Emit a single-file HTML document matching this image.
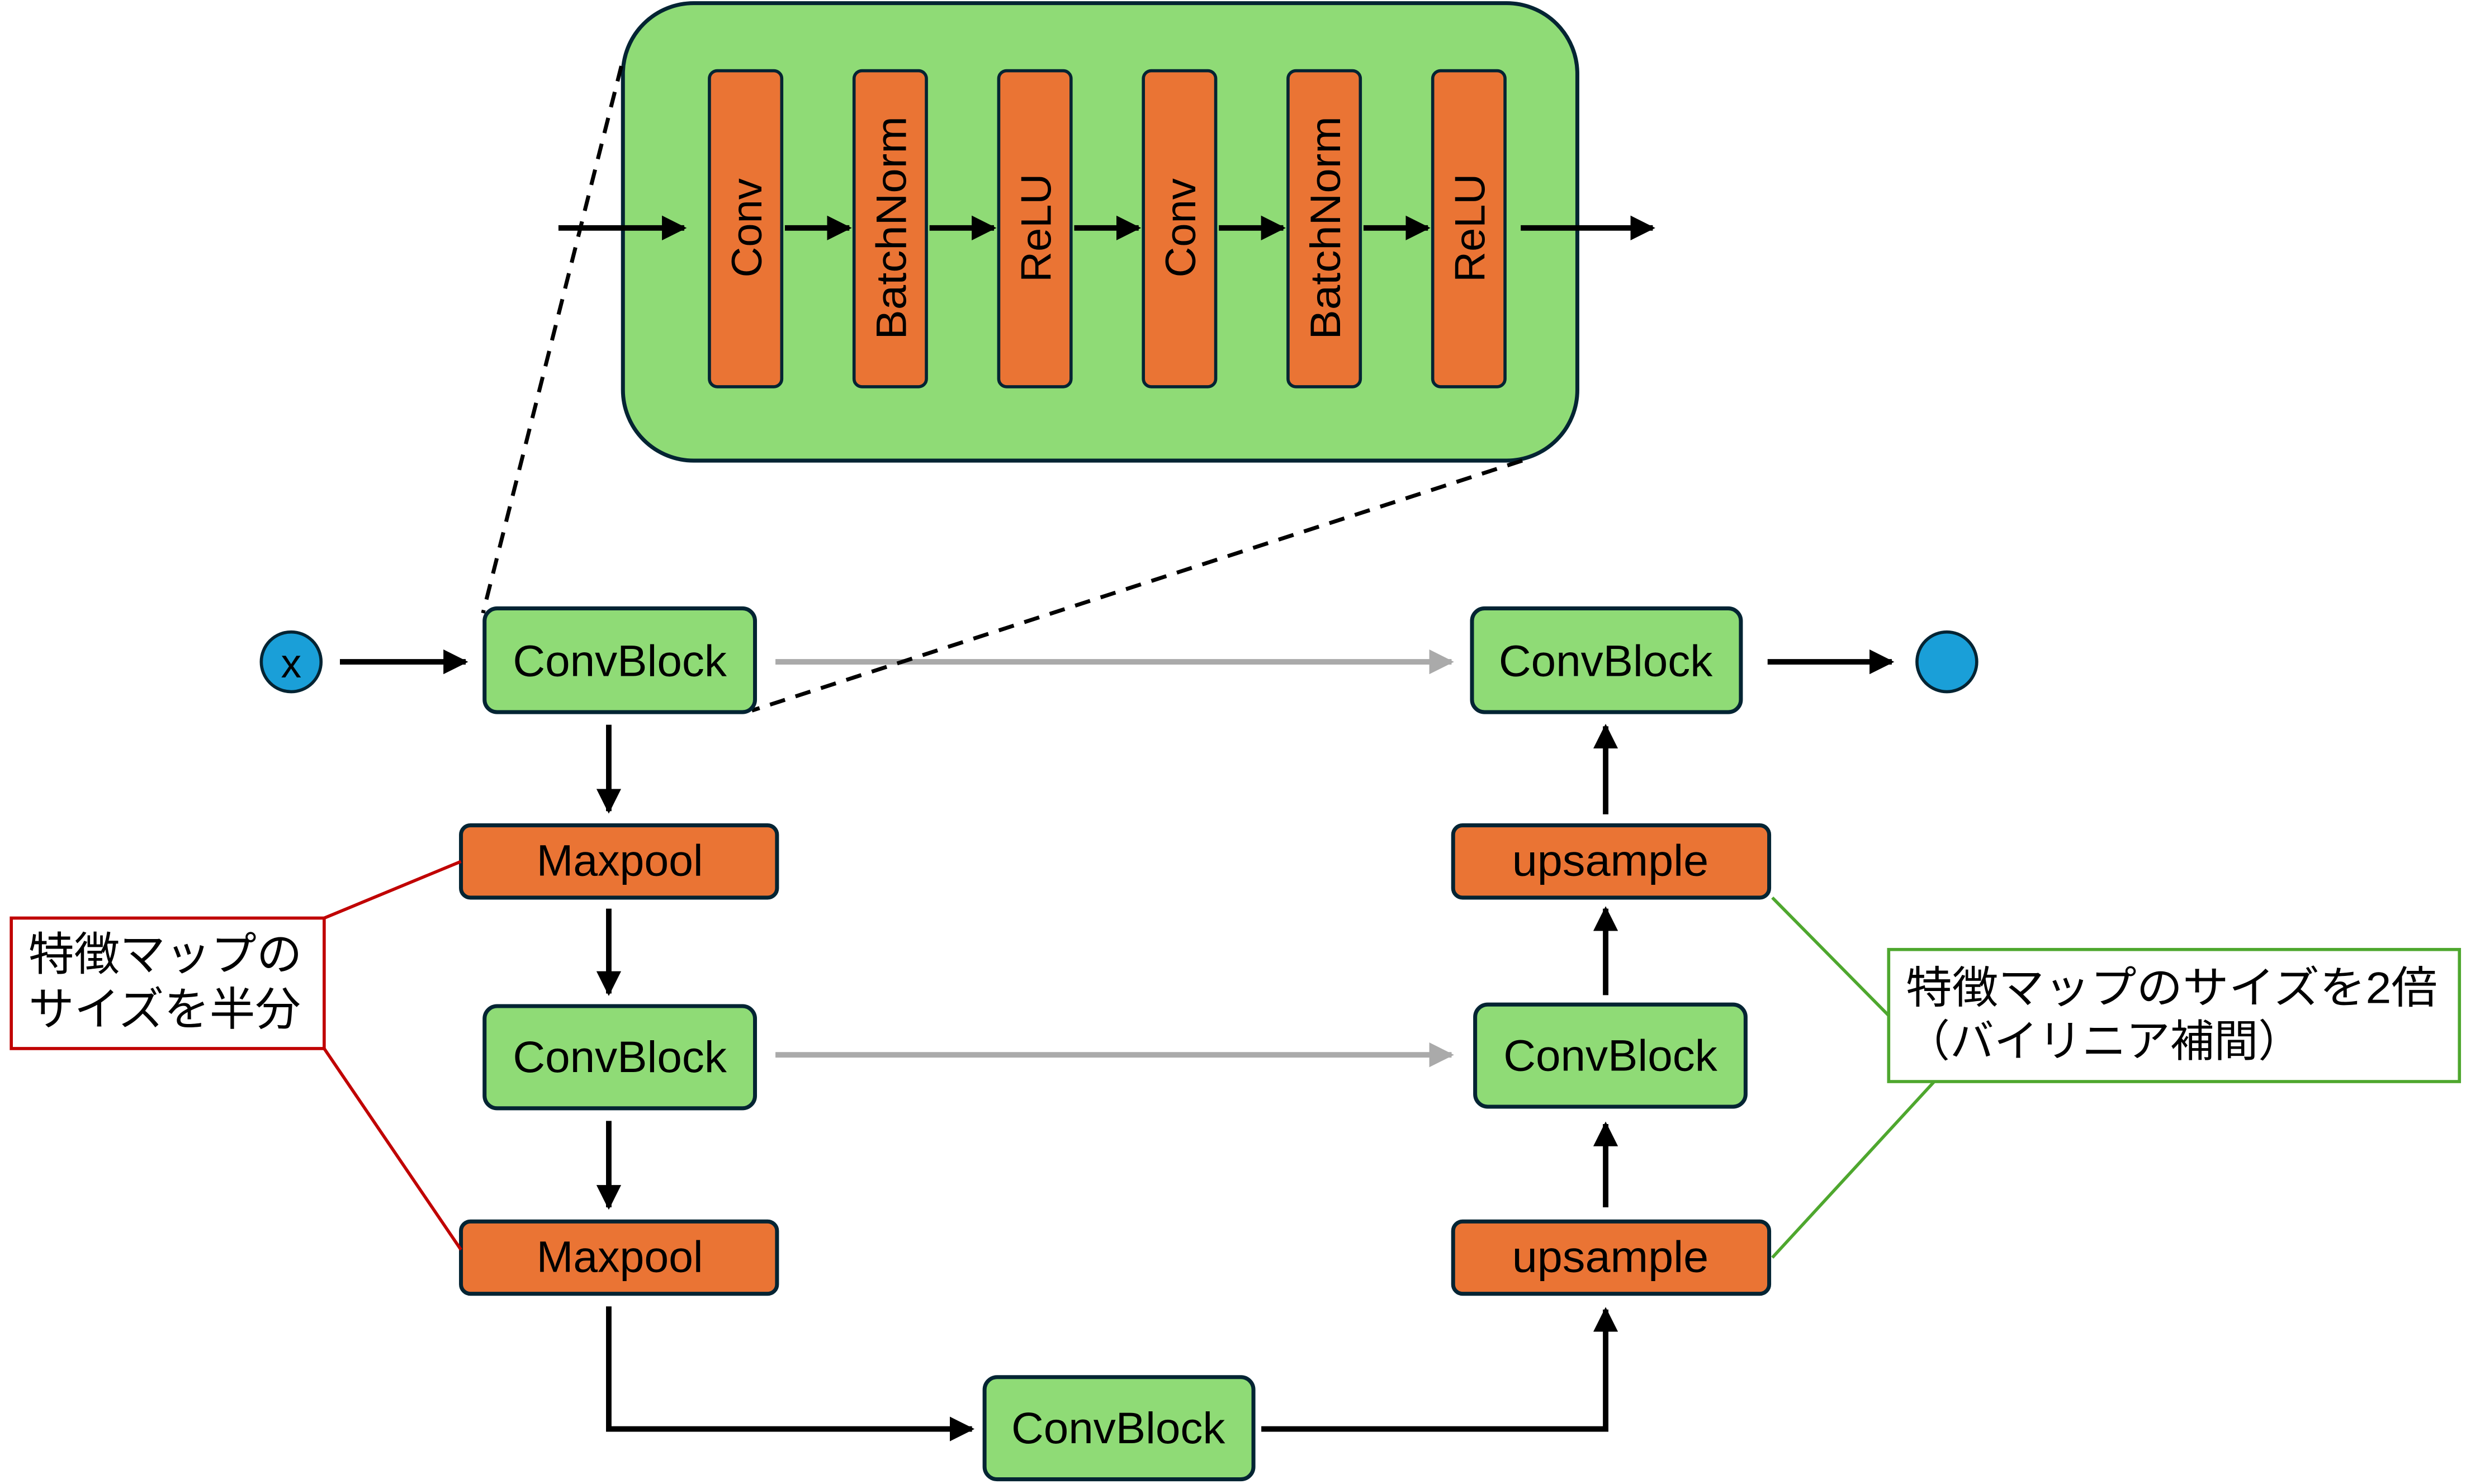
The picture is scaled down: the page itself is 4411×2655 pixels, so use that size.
<!DOCTYPE html>
<html><head><meta charset="utf-8"><style>html,body{margin:0;padding:0;background:#fff}svg{display:block}</style></head>
<body>
<svg xmlns="http://www.w3.org/2000/svg" width="4411" height="2655" viewBox="0 0 1568 944" font-family="Liberation Sans, Noto Sans CJK JP, sans-serif">
<defs>
<marker id="ab" viewBox="0 0 10 10" refX="9" refY="5" markerWidth="4.5" markerHeight="4.5" orient="auto" markerUnits="strokeWidth"><path d="M0,0 L10,5 L0,10 z" fill="#000"/></marker>
<marker id="ag" viewBox="0 0 10 10" refX="9" refY="5" markerWidth="4.5" markerHeight="4.5" orient="auto" markerUnits="strokeWidth"><path d="M0,0 L10,5 L0,10 z" fill="#aaa"/></marker>
</defs>
<rect width="1568" height="944" fill="#fff"/>
<rect x="396" y="2" width="607" height="291" rx="45" fill="#8fdb76" stroke="#042433" stroke-width="2.5"/>
<g fill="#ea7434" stroke="#042433" stroke-width="2">
<rect x="451" y="45" width="46" height="201" rx="5"/><rect x="543" y="45" width="46" height="201" rx="5"/><rect x="635" y="45" width="46" height="201" rx="5"/><rect x="727" y="45" width="46" height="201" rx="5"/><rect x="819" y="45" width="46" height="201" rx="5"/><rect x="911" y="45" width="46" height="201" rx="5"/>
</g>
<g font-size="27" text-anchor="middle" fill="#000">
<text transform="translate(484,145) rotate(-90)">Conv</text>
<text transform="translate(576,145) rotate(-90)" textLength="142" lengthAdjust="spacingAndGlyphs">BatchNorm</text>
<text transform="translate(668,145) rotate(-90)">ReLU</text>
<text transform="translate(760,145) rotate(-90)">Conv</text>
<text transform="translate(852,145) rotate(-90)" textLength="142" lengthAdjust="spacingAndGlyphs">BatchNorm</text>
<text transform="translate(944,145) rotate(-90)">ReLU</text>
</g>
<g stroke="#000" stroke-width="3.5" marker-end="url(#ab)">
<line x1="355" y1="145" x2="435" y2="145"/><line x1="499" y1="145" x2="540" y2="145"/><line x1="591" y1="145" x2="632" y2="145"/><line x1="683" y1="145" x2="724" y2="145"/><line x1="775" y1="145" x2="816" y2="145"/><line x1="867" y1="145" x2="908" y2="145"/><line x1="967" y1="145" x2="1051" y2="145"/>
<line x1="216" y1="421" x2="296" y2="421"/><line x1="1124" y1="421" x2="1203" y2="421"/>
<line x1="387" y1="461" x2="387" y2="516"/><line x1="387" y1="578" x2="387" y2="632"/><line x1="387" y1="713" x2="387" y2="768"/>
<line x1="1021" y1="768" x2="1021" y2="715"/><line x1="1021" y1="633" x2="1021" y2="578"/><line x1="1021" y1="518" x2="1021" y2="462"/>
</g>
<g stroke="#000" stroke-width="3.5" fill="none">
<polyline points="387,831 387,909 618,909" marker-end="url(#ab)"/>
<polyline points="802,909 1021,909 1021,833" marker-end="url(#ab)"/>
</g>
<g stroke="#aaa" stroke-width="3.5" marker-end="url(#ag)">
<line x1="493" y1="421" x2="923" y2="421"/><line x1="493" y1="671" x2="923" y2="671"/>
</g>
<g stroke="#000" stroke-width="2.5" stroke-dasharray="10,7">
<line x1="395" y1="42" x2="307" y2="390"/><line x1="968" y1="293" x2="478" y2="452"/>
</g>
<circle cx="185" cy="421" r="19" fill="#1a9fd8" stroke="#042433" stroke-width="2"/>
<text x="185" y="431" font-size="26" text-anchor="middle">x</text>
<circle cx="1238" cy="421" r="19" fill="#1a9fd8" stroke="#042433" stroke-width="2"/>
<g fill="#8fdb76" stroke="#042433" stroke-width="2.5">
<rect x="308" y="387" width="172" height="66" rx="8"/><rect x="936" y="387" width="171" height="66" rx="8"/>
<rect x="308" y="640" width="172" height="65" rx="8"/><rect x="938" y="639" width="172" height="65" rx="8"/>
<rect x="626" y="876" width="171" height="65" rx="8"/>
</g>
<g fill="#ea7434" stroke="#042433" stroke-width="2.5">
<rect x="293" y="525" width="201" height="46" rx="6"/><rect x="293" y="777" width="201" height="46" rx="6"/>
<rect x="924" y="525" width="201" height="46" rx="6"/><rect x="924" y="777" width="201" height="46" rx="6"/>
</g>
<g font-size="28" text-anchor="middle" fill="#000">
<text x="394" y="430" textLength="136" lengthAdjust="spacingAndGlyphs">ConvBlock</text><text x="1021" y="430" textLength="136" lengthAdjust="spacingAndGlyphs">ConvBlock</text>
<text x="394" y="682" textLength="136" lengthAdjust="spacingAndGlyphs">ConvBlock</text><text x="1024" y="681" textLength="136" lengthAdjust="spacingAndGlyphs">ConvBlock</text>
<text x="711" y="918" textLength="136" lengthAdjust="spacingAndGlyphs">ConvBlock</text>
<text x="394" y="557">Maxpool</text><text x="394" y="809">Maxpool</text>
<text x="1024" y="557" textLength="125" lengthAdjust="spacingAndGlyphs">upsample</text><text x="1024" y="809" textLength="125" lengthAdjust="spacingAndGlyphs">upsample</text>
</g>
<rect x="7" y="584" width="199" height="83" fill="#fff" stroke="#c00000" stroke-width="2"/>
<g stroke="#c00000" stroke-width="2"><line x1="206" y1="584" x2="293" y2="548"/><line x1="206" y1="667" x2="293" y2="795"/></g>
<g font-size="29" fill="#000"><text x="18" y="617">特徴マップの</text><text x="18" y="652">サイズを半分</text></g>
<rect x="1201" y="604" width="363" height="84" fill="#fff" stroke="#4ea72e" stroke-width="2"/>
<g stroke="#4ea72e" stroke-width="2"><line x1="1127" y1="571" x2="1201" y2="646"/><line x1="1127" y1="800" x2="1230" y2="688"/></g>
<g font-size="28" fill="#000"><text x="1212" y="638" textLength="338" lengthAdjust="spacingAndGlyphs">特徴マップのサイズを2倍</text><text x="1212" y="672" textLength="252" lengthAdjust="spacingAndGlyphs">（バイリニア補間）</text></g>
</svg>
</body></html>
